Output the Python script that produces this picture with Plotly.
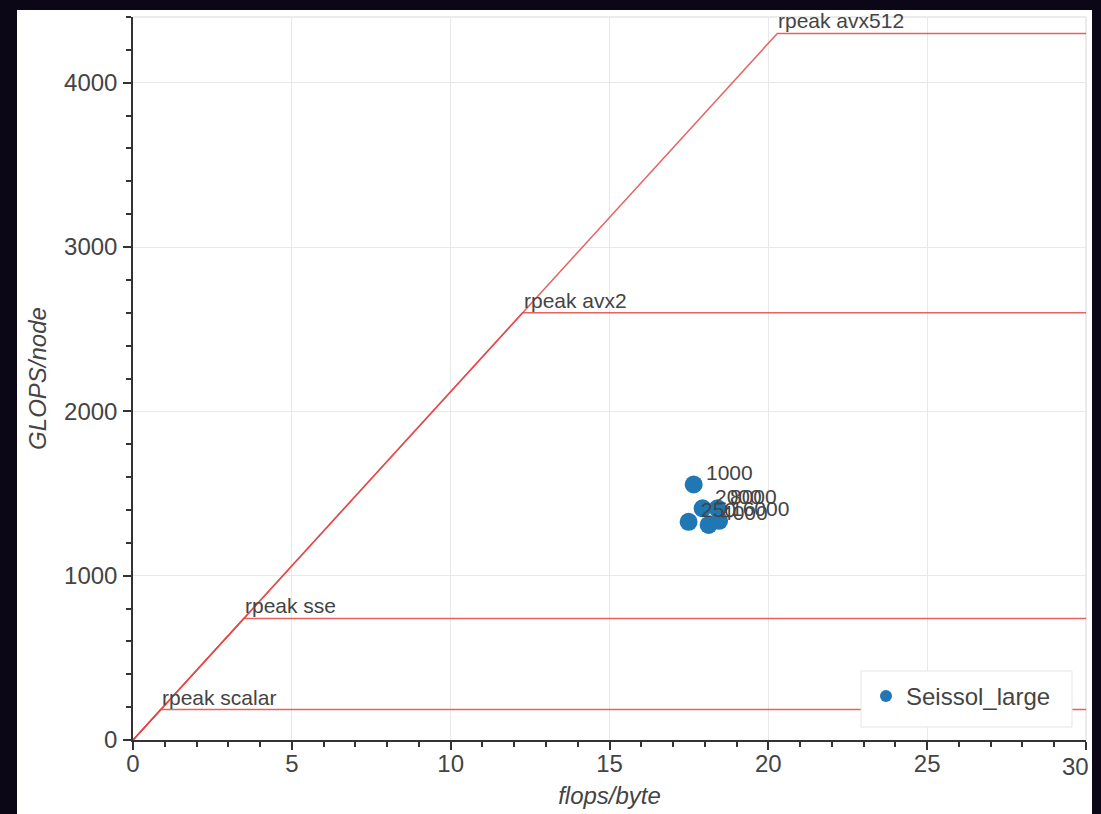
import plotly.graph_objects as go

# Roofline parameters (GFLOPS/node) and memory bandwidth (GB/s)
bandwidth = 212.0
roof_names = ["rpeak scalar", "rpeak sse", "rpeak avx2", "rpeak avx512"]
roof_peaks = [185, 740, 2600, 4300]
x_max = 30

# Measured points for Seissol_large
pt_intensity = [17.65, 17.93, 18.40, 17.49, 18.12, 18.45]
pt_gflops = [1555, 1410, 1410, 1328, 1309, 1334]
pt_labels = ["1000", "2000", "8000", "250", "4000", "16000"]

x_tickvals = [0, 5, 10, 15, 20, 25, 30]
x_ticktext = ["0", "5", "10", "15", "20", "25", ""]
y_tickvals = [0, 1000, 2000, 3000, 4000]

L, R, T, B = 133, 15, 17, 74
W, H = 1101, 814
pw, ph = W - L - R, H - T - B

def px_x(p):
    return (p - L) / pw

def px_y(p):
    return (H - B - p) / ph

label_color = "#444444"
axis_color = "#333333"
roof_color = "rgba(228,70,70,0.85)"
font_family = "Liberation Sans, Arial, Helvetica, sans-serif"

fig = go.Figure()

for name, peak in zip(roof_names, roof_peaks):
    ridge = peak / bandwidth
    fig.add_trace(go.Scatter(
        x=[0, ridge, x_max], y=[0, peak, peak],
        mode="lines", line=dict(color=roof_color, width=1.5),
        showlegend=False, hoverinfo="skip"))
    fig.add_annotation(
        x=ridge, y=peak, text=name, showarrow=False,
        xanchor="left", yanchor="bottom", xshift=-1, yshift=-1,
        font=dict(family=font_family, size=21, color=label_color))

fig.add_trace(go.Scatter(
    x=pt_intensity, y=pt_gflops, mode="markers",
    marker=dict(color="#1f77b4", size=18),
    name="Seissol_large"))

# Point labels, offset up and to the right of each marker
for xv, yv, lab in zip(pt_intensity, pt_gflops, pt_labels):
    fig.add_annotation(
        x=xv, y=yv, text=lab, showarrow=False,
        xanchor="left", yanchor="middle", xshift=10, yshift=12,
        font=dict(family=font_family, size=21, color=label_color))

fig.add_annotation(
    x=30, y=0, text="30", showarrow=False, xanchor="right", yanchor="top",
    xshift=5, yshift=-11,
    font=dict(family=font_family, size=24, color=label_color))

# White panel behind the chart
fig.add_shape(type="rect", xref="paper", yref="paper",
              x0=px_x(17), x1=px_x(1092), y0=px_y(814), y1=px_y(10),
              fillcolor="white", line=dict(width=0), layer="below")
# Light outline on the top and right of the plot frame
fig.add_shape(type="line", xref="paper", yref="paper", x0=0, x1=1, y0=1, y1=1,
              line=dict(color="#e5e5e5", width=1.5), layer="below")
fig.add_shape(type="line", xref="paper", yref="paper", x0=1, x1=1, y0=0, y1=1,
              line=dict(color="#e5e5e5", width=1.5), layer="below")
# Legend box
fig.add_shape(type="rect", xref="paper", yref="paper",
              x0=px_x(861), x1=px_x(1072), y0=px_y(727), y1=px_y(671),
              fillcolor="white", line=dict(color="#e5e5e5", width=1),
              layer="above")

axis_common = dict(
    showline=True, linecolor=axis_color, linewidth=1.5,
    ticks="outside", ticklen=8, tickwidth=1.5, tickcolor=axis_color,
    showgrid=True, gridcolor="#e8e8e8", gridwidth=1,
    zeroline=False, automargin=False,
    tickfont=dict(family=font_family, size=24, color=label_color),
)

fig.update_xaxes(
    range=[0, x_max], tickvals=x_tickvals, ticktext=x_ticktext,
    minor=dict(ticks="outside", ticklen=5, tickwidth=1.5, tickcolor=axis_color,
               dtick=1, showgrid=False),
    ticklabelstandoff=-7,
    title=dict(text="<i>flops/byte</i>", standoff=12,
               font=dict(family=font_family, size=24, color=label_color)),
    **axis_common)
fig.update_yaxes(
    range=[0, 4400], tickvals=y_tickvals,
    minor=dict(ticks="outside", ticklen=5, tickwidth=1.5, tickcolor=axis_color,
               dtick=200, showgrid=False),
    ticklabelstandoff=1,
    title=dict(text="<i>GLOPS/node</i>", standoff=11,
               font=dict(family=font_family, size=24, color=label_color)),
    **axis_common)

fig.update_layout(
    width=W, height=H,
    margin=dict(l=L, r=R, t=T, b=B),
    paper_bgcolor="#0b0716", plot_bgcolor="white",
    legend=dict(x=px_x(866), y=px_y(674), xanchor="left", yanchor="top",
                bgcolor="rgba(0,0,0,0)", borderwidth=0,
                itemsizing="constant",
                font=dict(family=font_family, size=24, color=label_color)),
)

fig.write_html("out.html")
